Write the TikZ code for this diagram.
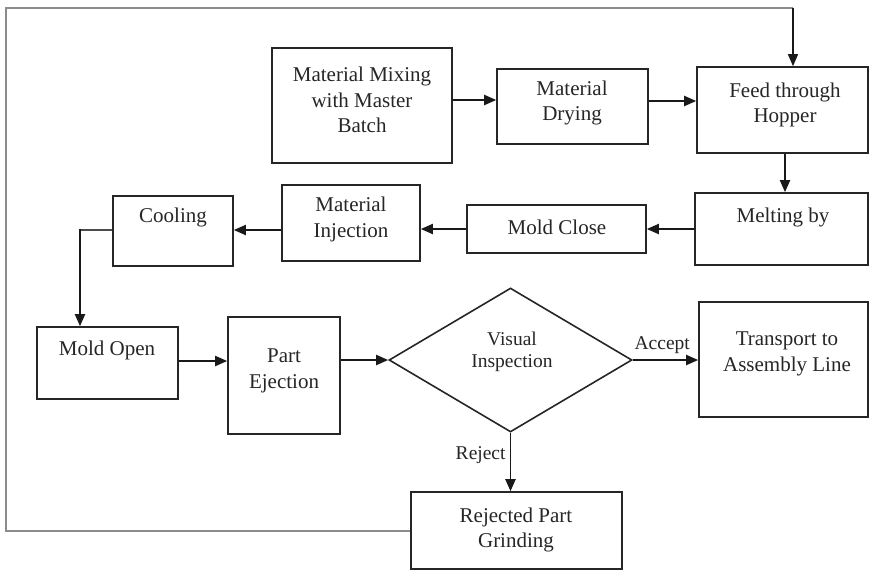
\documentclass[tikz,border=0pt]{standalone}
\usepackage{fontspec}
\setmainfont{Liberation Serif}
\usetikzlibrary{arrows.meta,shapes.geometric}
\begin{document}
\begin{tikzpicture}[x=1pt,y=-1pt,
  box/.style={draw=black!85,line width=1.6pt,inner sep=0pt,minimum width=#1},
  lbl/.style={text=black!85,align=center,inner sep=0pt,font=\fontsize{21}{25.5}\selectfont},
  small/.style={text=black!85,align=center,inner sep=0pt,font=\fontsize{19.5}{22}\selectfont},
  arr/.style={draw=black!90,line width=1.9pt,-{Triangle[length=12pt,width=10pt]}},
  loop/.style={draw=black!45,line width=1.1pt}]
\useasboundingbox (0,0) rectangle (870,571);
\fill[white] (0,0) rectangle (870,571);
% boxes
\node[box=180pt,minimum height=115pt] (mix) at (362,105.5) {};
\node[box=151pt,minimum height=75pt] (dry) at (572.5,106.5) {};
\node[box=171pt,minimum height=86pt] (feed) at (782.5,110) {};
\node[box=173pt,minimum height=72pt] (melt) at (781.5,229) {};
\node[box=179pt,minimum height=48pt] (close) at (556.5,229) {};
\node[box=138pt,minimum height=76pt] (inj) at (351,223) {};
\node[box=120pt,minimum height=70pt] (cool) at (173,231) {};
\node[box=141pt,minimum height=72pt] (open) at (107.5,363) {};
\node[box=112pt,minimum height=117pt] (eject) at (284,375.5) {};
\node[draw=black!85,line width=1.6pt,diamond,inner sep=0pt,minimum width=243pt,minimum height=144pt] (insp) at (510.5,360) {};
\node[box=169pt,minimum height=115pt] (trans) at (783.5,359.5) {};
\node[box=211pt,minimum height=77pt] (rej) at (516.5,530.5) {};
% texts
\node[lbl] (mix-t) at (362,100) {Material Mixing\\with Master\\Batch};
\node[lbl] (dry-t) at (572,103) {Material\\Drying};
\node[lbl] (feed-t) at (785,105) {Feed through\\Hopper};
\node[lbl] (melt-t) at (783,217) {Melting by};
\node[lbl] (close-t) at (557,227) {Mold Close};
\node[lbl] (inj-t) at (351,219.5) {Material\\Injection};
\node[lbl] (cool-t) at (173,217) {Cooling};
\node[lbl] (open-t) at (107,350) {Mold Open};
\node[lbl] (eject-t) at (284,371) {Part\\Ejection};
\node[small] (insp-t) at (512,352) {Visual\\Inspection};
\node[lbl] (trans-t) at (787,354) {Transport to\\Assembly Line};
\node[lbl] (rej-t) at (516,530) {Rejected Part\\Grinding};
% connectors
\draw[arr] (mix.east |- 0,100) -- (dry.west |- 0,100);
\draw[arr] (dry.east |- 0,101) -- (feed.west |- 0,101);
\draw[arr] (feed.south -| 785,0) -- (melt.north -| 785,0);
\draw[arr] (melt.west) -- (close.east);
\draw[arr] (close.west) -- (inj.east |- close.west);
\draw[arr] (inj.west |- 0,230) -- (cool.east |- 0,230);
\draw[loop,draw=black!70] (cool.west |- 0,230) -- (80,230);
\draw[arr] (80,229.2) -- (open.north -| 80,0);
\draw[arr] (open.east |- 0,361) -- (eject.west |- 0,361);
\draw[arr] (eject.east |- insp.west) -- (insp.west);
\draw[arr] (insp.east) -- node[small,above=5pt,pos=0.45] (acc) {Accept} (trans.west |- insp.east);
\draw[arr] (insp.south) -- node[small,left=4pt,pos=0.38] (rejl) {Reject} (rej.north -| insp.south);
\draw[loop] (rej.west |- 0,531) -- (6,531) -- (6,8) -- (793,8);
\draw[arr,line width=1.4pt] (793,7.5) -- (feed.north -| 793,0);
\end{tikzpicture}
\end{document}
